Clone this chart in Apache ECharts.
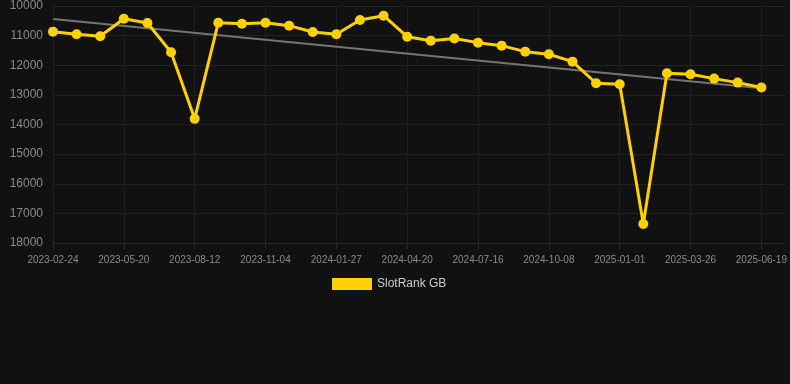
<!DOCTYPE html>
<html>
<head>
<meta charset="utf-8">
<script src="https://cdn.jsdelivr.net/npm/echarts@6/dist/echarts.min.js"></script>
<style>
html,body{margin:0;padding:0;background:#111111;}
#chart{width:790px;height:384px;}
</style>
</head>
<body>
<div id="chart"></div>
<script>
const categories = [
  '2023-02-24','2023-03-24','2023-04-21','2023-05-20','2023-06-17','2023-07-15',
  '2023-08-12','2023-09-09','2023-10-07','2023-11-04','2023-12-02','2023-12-30',
  '2024-01-27','2024-02-24','2024-03-23','2024-04-20','2024-05-18','2024-06-15',
  '2024-07-16','2024-08-13','2024-09-10','2024-10-08','2024-11-05','2024-12-03',
  '2025-01-01','2025-01-29','2025-02-26','2025-03-26','2025-04-23','2025-05-21',
  '2025-06-19','2025-07-17'
];
const rankValues = [
  10866, 10954, 11022, 10428, 10573, 11561, 13810, 10563, 10600, 10563, 10664,
  10877, 10954, 10472, 10327, 11035, 11170, 11100, 11237, 11338, 11541, 11629,
  11878, 12607, 12641, 17360, 12270, 12303, 12451, 12586, 12754
];
const trendStart = 10440;
const trendEnd = 12780;
const yTicks = { min: 10000, max: 18000, interval: 1000 };

const chart = echarts.init(document.getElementById('chart'));
chart.setOption({
  backgroundColor: '#111111',
  animation: false,
  textStyle: { fontFamily: 'Liberation Sans, Arial, sans-serif' },
  grid: { left: 53, right: 5, top: 6, bottom: 141, containLabel: false },
  legend: {
    data: ['SlotRank GB'],
    top: 273,
    left: 327,
    icon: 'rect',
    itemWidth: 40,
    itemHeight: 12,
    itemGap: 10,
    textStyle: { color: '#cccccc', fontSize: 12 }
  },
  xAxis: {
    type: 'category',
    data: categories,
    boundaryGap: false,
    axisLine: { show: true, lineStyle: { color: '#2a2a2a' } },
    axisTick: { show: true, interval: 2, length: 6, lineStyle: { color: '#2a2a2a' } },
    axisLabel: { interval: 2, color: '#8a8a8a', fontSize: 10, margin: 12 },
    splitLine: { show: true, interval: 2, lineStyle: { color: '#1f1f1f' } }
  },
  yAxis: {
    type: 'value',
    inverse: true,
    min: yTicks.min,
    max: yTicks.max,
    interval: yTicks.interval,
    axisLine: { show: false },
    axisTick: { show: false },
    axisLabel: { color: '#8a8a8a', fontSize: 12, margin: 10, formatter: v => String(v) },
    splitLine: { show: true, lineStyle: { color: '#222222' } }
  },
  series: [
    {
      type: 'line',
      data: [[0, trendStart], [rankValues.length - 1, trendEnd]],
      symbol: 'none',
      silent: true,
      z: 1,
      lineStyle: { color: '#747474', width: 2 }
    },
    {
      name: 'SlotRank GB',
      type: 'line',
      data: rankValues,
      symbol: 'circle',
      symbolSize: 10,
      z: 3,
      itemStyle: { color: '#FFD100' },
      lineStyle: { color: '#FFD100', width: 3 }
    }
  ]
});
</script>
</body>
</html>
